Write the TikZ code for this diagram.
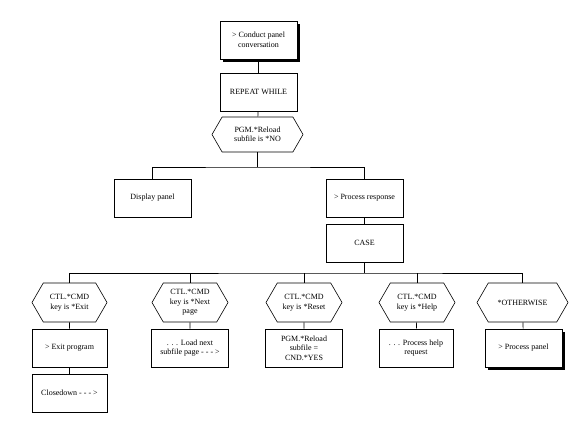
\documentclass[tikz,border=0pt]{standalone}
\usepackage{fontspec}
\setmainfont{Liberation Serif}
\usetikzlibrary{shapes.symbols,shadows}
\begin{document}
\begin{tikzpicture}[x=1pt,y=-1pt,line width=0.6pt,
  font=\fontsize{8}{9.5}\selectfont,
  caja/.style={draw, rectangle, minimum width=77pt, minimum height=38pt, align=center, inner sep=1pt, fill=white},
  hexa/.style={draw, signal, signal to=west and east, signal pointer angle=120, minimum width=76pt, minimum height=39pt, align=center, inner sep=1pt, fill=white},
  sombra/.style={drop shadow={shadow xshift=3pt, shadow yshift=-3pt, opacity=1, fill=black}}]
  \useasboundingbox (0,0) rectangle (581,431);

  % Parte superior
  \node[caja, sombra] (conducir) at (258.5,40) {> Conduct panel\\conversation};
  \node[caja] (repetir) at (258.5,92) {REPEAT WHILE};
  \node[hexa, minimum width=91pt, minimum height=35pt] (recarga) at (257.5,134.5) {PGM.*Reload\\subfile is *NO};
  \node[caja] (mostrar) at (152.5,198) {Display panel};
  \node[caja] (procesar) at (364.5,198) {> Process response};
  \node[caja] (caso) at (364.5,243) {CASE};

  % Casos
  \node[hexa, minimum width=75pt] (hsalir) at (69.5,302.5) {CTL.*CMD\\key is *Exit};
  \node[hexa] (hsig) at (190,302.5) {CTL.*CMD\\key is *Next\\page};
  \node[hexa] (hreset) at (304,302.5) {CTL.*CMD\\key is *Reset};
  \node[hexa] (hayuda) at (417,302.5) {CTL.*CMD\\key is *Help};
  \node[hexa, minimum width=91pt] (hotro) at (522.5,302.5) {*OTHERWISE};

  \node[caja, minimum width=75pt] (salir) at (69.5,348) {> Exit program};
  \node[caja] (sig) at (190,348) {. . . Load next\\subfile page - - - >};
  \node[caja] (reset) at (304,348) {PGM.*Reload\\subfile =\\CND.*YES};
  \node[caja, minimum width=74pt] (ayuda) at (416,348) {. . . Process help\\request};
  \node[caja, sombra] (panel) at (523.5,348) {> Process panel};
  \node[caja, minimum width=75pt] (cierre) at (69.5,393) {Closedown - - - >};

  % Conectores
  \coordinate (bus1) at (0,167);
  \coordinate (bus2) at (0,273);
  \draw (conducir) -- (repetir);
  \draw (repetir) -- (recarga);
  \draw (recarga.south) -- (recarga.south |- bus1);
  \draw (mostrar.north) |- (recarga.south |- bus1) -| (procesar.north);
  \draw (procesar) -- (caso);
  \draw (caso.south) -- (caso.south |- bus2);
  \draw (hsalir.north) |- (caso.south |- bus2) -| (hotro.north);
  \foreach \n in {hsig,hreset,hayuda}
    \draw (\n.north) -- (\n.north |- bus2);
  \draw (hsalir) -- (salir);
  \draw (salir) -- (cierre);
  \draw (hsig) -- (sig);
  \draw (hreset) -- (reset);
  \draw (hayuda) -- (ayuda);
  \draw (hotro) -- (panel);
\end{tikzpicture}
\end{document}
